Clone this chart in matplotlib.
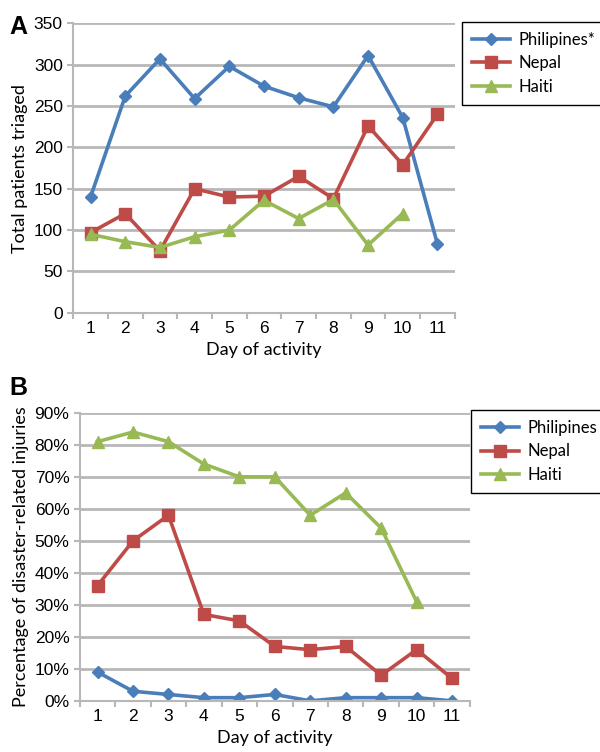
import numpy as np
import matplotlib.pyplot as plt
from matplotlib.ticker import FuncFormatter, MultipleLocator

# Panel A: total patients triaged per day
days = np.arange(1, 12)
triaged_philippines = [140, 262, 307, 259, 298, 274, 260, 249, 311, 236, 83]
triaged_nepal = [97, 120, 75, 150, 140, 141, 165, 138, 226, 179, 240]
triaged_haiti = [95, 86, 79, 92, 100, 136, 114, 137, 82, 120]

# Panel B: percentage of disaster-related injuries
injury_philippines = [9, 3, 2, 1, 1, 2, 0, 1, 1, 1, 0]
injury_nepal = [36, 50, 58, 27, 25, 17, 16, 17, 8, 16, 7]
injury_haiti = [81, 84, 81, 74, 70, 70, 58, 65, 54, 31]

BLUE = '#4a7ebb'
RED = '#be4b48'
GREEN = '#98b954'
GRID = '#b8b8b8'
LABEL_FONT = ['Lato', 'DejaVu Sans']
TICK_FONT = ['Liberation Sans', 'DejaVu Sans']


def style_axes(ax):
    for side in ['top', 'right']:
        ax.spines[side].set_visible(False)
    for side in ['left', 'bottom']:
        ax.spines[side].set_color(GRID)
        ax.spines[side].set_linewidth(1.5)
    ax.yaxis.grid(True, color=GRID, linewidth=2)
    ax.set_axisbelow(True)
    ax.set_xlim(0.5, 11.5)
    ax.set_xticks(days)
    ax.xaxis.set_minor_locator(MultipleLocator(1, offset=0.5))
    ax.tick_params(axis='x', which='major', length=0, pad=6)
    ax.tick_params(axis='x', which='minor', length=4, color=GRID, width=1.5)
    ax.tick_params(axis='y', length=4, color=GRID, width=1.5)
    for lab in ax.get_xticklabels() + ax.get_yticklabels():
        lab.set_family(TICK_FONT)
        lab.set_fontsize(12.5)


def plot_series(ax, series):
    handles = []
    for values, color, marker, ms, name in series:
        h, = ax.plot(days[:len(values)], values, color=color, marker=marker,
                     markersize=ms, linewidth=2.6, label=name)
        handles.append(h)
    return handles


def add_legend(handles, anchor):
    fig.legend(handles=handles, loc='upper left', bbox_to_anchor=anchor,
               frameon=True, fancybox=False, edgecolor='black', framealpha=1,
               prop={'family': LABEL_FONT, 'size': 12}, handlelength=2.3,
               handletextpad=0.5, borderpad=0.6, labelspacing=0.45,
               borderaxespad=0)


fig = plt.figure(figsize=(6, 7.52), dpi=100)

# Panel A
ax1 = fig.add_axes([0.122, 0.584, 0.636, 0.385])
h1 = plot_series(ax1, [
    (triaged_philippines, BLUE, 'D', 6.5, 'Philipines*'),
    (triaged_nepal, RED, 's', 8.5, 'Nepal'),
    (triaged_haiti, GREEN, '^', 8, 'Haiti'),
])
ax1.set_ylim(0, 350)
ax1.set_yticks(np.arange(0, 351, 50))
style_axes(ax1)
ax1.set_ylabel('Total patients triaged', family=LABEL_FONT, fontsize=13)
ax1.set_xlabel('Day of activity', family=LABEL_FONT, fontsize=13, labelpad=4)
add_legend(h1, (0.77, 0.971))

# Panel B
ax2 = fig.add_axes([0.133, 0.068, 0.650, 0.383])
h2 = plot_series(ax2, [
    (injury_philippines, BLUE, 'D', 6.5, 'Philipines'),
    (injury_nepal, RED, 's', 8.5, 'Nepal'),
    (injury_haiti, GREEN, '^', 8, 'Haiti'),
])
ax2.set_ylim(0, 90)
ax2.set_yticks(np.arange(0, 91, 10))
ax2.yaxis.set_major_formatter(FuncFormatter(lambda v, p: f'{v:.0f}%'))
style_axes(ax2)
ax2.set_ylabel('Percentage of disaster-related injuries', family=LABEL_FONT, fontsize=13)
ax2.set_xlabel('Day of activity', family=LABEL_FONT, fontsize=13, labelpad=4)
add_legend(h2, (0.785, 0.455))

fig.text(0.015, 0.955, 'A', fontsize=18, fontweight='bold', family=TICK_FONT)
fig.text(0.015, 0.475, 'B', fontsize=18, fontweight='bold', family=TICK_FONT)

fig.savefig('out.png', dpi=100)
